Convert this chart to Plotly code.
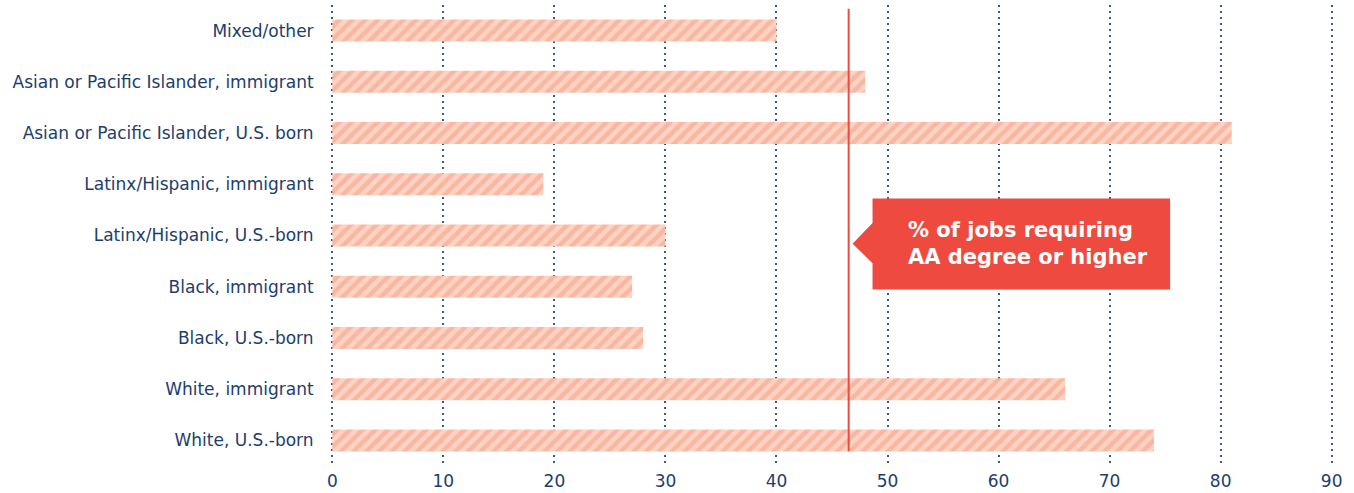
"""Share of workers with AA degree or higher, by race/ethnicity and nativity."""

import plotly.graph_objects as go

categories = [
    "White, U.S.-born",
    "White, immigrant",
    "Black, U.S.-born",
    "Black, immigrant",
    "Latinx/Hispanic, U.S.-born",
    "Latinx/Hispanic, immigrant",
    "Asian or Pacific Islander, U.S. born",
    "Asian or Pacific Islander, immigrant",
    "Mixed/other",
]
values = [74, 66, 28, 27, 30, 19, 81, 48, 40]
jobs_share = 46.5
x_ticks = [0, 10, 20, 30, 40, 50, 60, 70, 80, 90]

navy = "#1d3d6c"
red = "#ee4a3f"

fig = go.Figure(
    go.Bar(
        y=categories,
        x=values,
        orientation="h",
        width=0.43,
        marker=dict(
            color="#fdd3c3",
            line=dict(width=0),
            pattern=dict(shape="/", fgcolor="#f69c80", bgcolor="#fdd3c3", size=9, solidity=0.5),
        ),
        hoverinfo="x+y",
    )
)

# requirement line
fig.add_shape(
    type="line", xref="x", yref="paper",
    x0=jobs_share, x1=jobs_share, y0=0.032, y1=0.992,
    line=dict(color=red, width=2),
)

# callout box with pointer
bx0, bx1, tip = 48.65, 75.45, 46.85
fig.add_shape(
    type="path", xref="x", yref="paper",
    path=f"M {bx0} 0.58 L {bx1} 0.58 L {bx1} 0.383 L {bx0} 0.383 L {bx0} 0.44 L {tip} 0.482 L {bx0} 0.527 Z",
    fillcolor=red, line=dict(width=0),
)
fig.add_annotation(
    x=51.7, y=0.482, xref="x", yref="paper",
    xanchor="left", yanchor="middle", align="left", showarrow=False,
    text="<b>% of jobs requiring<br>AA degree or higher</b>",
    font=dict(family="DejaVu Sans", size=21, color="white"),
)

fig.update_layout(
    width=1354, height=493,
    margin=dict(l=329, r=19, t=5, b=27),
    plot_bgcolor="white", paper_bgcolor="white",
    showlegend=False,
    font=dict(family="DejaVu Sans", size=17, color=navy),
    xaxis=dict(
        range=[-0.3, 90.3], tickvals=x_ticks, showgrid=True,
        gridcolor="#3d5a86", griddash="2px,4px", gridwidth=1.5,
        zeroline=False, showline=False, ticks="", automargin=False,
        ticklabelstandoff=3,
    ),
    yaxis=dict(
        categoryorder="array", categoryarray=categories, range=[-0.5, 8.5],
        showgrid=False, zeroline=False, showline=False, automargin=False,
        ticks="outside", ticklen=11, tickcolor="rgba(0,0,0,0)",
    ),
)

fig.write_html(
    "out.html",
    config={"displayModeBar": False},
    post_script="document.body.style.margin = '0';",
)
